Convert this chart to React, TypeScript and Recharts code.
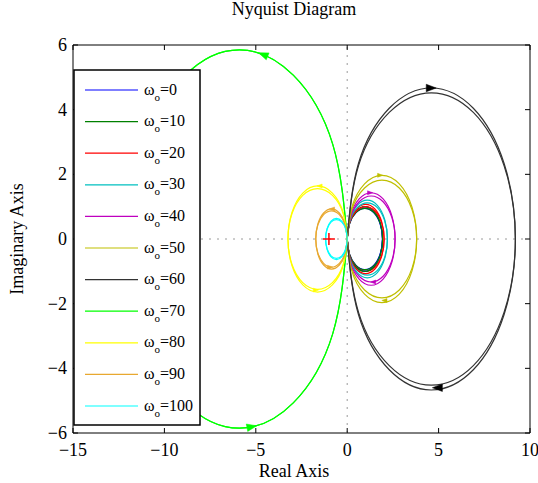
import React from 'react';
import { ComposedChart, Line, Scatter, XAxis, YAxis, ReferenceLine, ReferenceArea } from 'recharts';

// ---------- data ----------
const omegaValues = [0, 10, 20, 30, 40, 50, 60, 70, 80, 90, 100];
const xTicks = [-15, -10, -5, 0, 5, 10];
const yTicks = [-6, -4, -2, 0, 2, 4, 6];

// positive-frequency branch of each Nyquist locus: [Re, Im]
const w0Branch = [[0,0],[0.129,0.497],[0.482,0.861],[0.965,0.995],[1.448,0.861],[1.8,0.497],[1.93,0],[1.8,-0.472],[1.448,-0.818],[0.965,-0.945],[0.482,-0.818],[0.129,-0.472],[0,0]];
const w10Branch = [[0,0],[0.13,0.5],[0.485,0.866],[0.97,1.0],[1.455,0.866],[1.81,0.5],[1.94,0],[1.81,-0.475],[1.455,-0.823],[0.97,-0.95],[0.485,-0.823],[0.13,-0.475],[0,0]];
const w20Branch = [[0,0],[0.135,0.535],[0.505,0.927],[1.01,1.07],[1.515,0.927],[1.885,0.535],[2.02,0],[1.885,-0.5],[1.515,-0.866],[1.01,-1.0],[0.505,-0.866],[0.135,-0.5],[0,0]];
const w30Branch = [[0,0],[0.147,0.6],[0.55,1.039],[1.1,1.2],[1.65,1.039],[2.053,0.6],[2.2,0],[2.053,-0.56],[1.65,-0.97],[1.1,-1.12],[0.55,-0.97],[0.147,-0.56],[0,0]];
const w40Branch = [[0,0],[0.176,0.715],[0.655,1.238],[1.31,1.43],[1.965,1.238],[2.444,0.715],[2.62,0],[2.444,-0.665],[1.965,-1.152],[1.31,-1.33],[0.655,-1.152],[0.176,-0.665],[0,0]];
const w50Branch = [[0,0],[0.255,0.985],[0.95,1.706],[1.9,1.97],[2.85,1.706],[3.545,0.985],[3.8,0],[3.545,-0.91],[2.85,-1.576],[1.9,-1.82],[0.95,-1.576],[0.255,-0.91],[0,0]];
const w60Branch = [[0,0],[0.616,2.335],[2.3,4.044],[4.6,4.67],[6.9,4.044],[8.584,2.335],[9.2,0],[8.584,-2.26],[6.9,-3.914],[4.6,-4.52],[2.3,-3.914],[0.616,-2.26],[0,0]];
const w70Branch = [[0,0],[-0.79,2.925],[-2.95,5.066],[-5.9,5.85],[-8.85,5.066],[-11.01,2.925],[-11.8,0],[-11.01,-2.925],[-8.85,-5.066],[-5.9,-5.85],[-2.95,-5.066],[-0.79,-2.925],[0,0]];
const w80Branch = [[0,0],[-0.217,0.82],[-0.81,1.42],[-1.62,1.64],[-2.43,1.42],[-3.023,0.82],[-3.24,0],[-3.023,-0.78],[-2.43,-1.351],[-1.62,-1.56],[-0.81,-1.351],[-0.217,-0.78],[0,0]];
const w90Branch = [[0,0],[-0.115,0.465],[-0.43,0.805],[-0.86,0.93],[-1.29,0.805],[-1.605,0.465],[-1.72,0],[-1.605,-0.435],[-1.29,-0.753],[-0.86,-0.87],[-0.43,-0.753],[-0.115,-0.435],[0,0]];
const w100Branch = [[0,0],[-0.079,0.32],[-0.295,0.554],[-0.59,0.64],[-0.885,0.554],[-1.101,0.32],[-1.18,0],[-1.101,-0.3],[-0.885,-0.52],[-0.59,-0.6],[-0.295,-0.52],[-0.079,-0.3],[0,0]];

// direction arrows on the loci: position and heading (degrees, screen)
const w40Arrows = [{ x: 1.24, y: 1.43, angle: 0 }, { x: 1.43, y: -1.33, angle: 180 }];
const w50Arrows = [{ x: 1.79, y: 1.97, angle: 0 }, { x: 2.05, y: -1.9, angle: 180 }];
const w60Arrows = [{ x: 4.57, y: 4.67, angle: 0 }, { x: 4.96, y: -4.6, angle: 180 }];
const w70Arrows = [{ x: -4.58, y: 5.7, angle: -158 }, { x: -5.24, y: -5.81, angle: -11 }];
const w80Arrows = [{ x: -1.5, y: 1.64, angle: 180 }, { x: -1.73, y: -1.58, angle: 0 }];
const w90Arrows = [{ x: -0.82, y: 0.93, angle: 180 }, { x: -0.95, y: -0.87, angle: 0 }];

const criticalPoint = [{ x: -1, y: 0 }];

// ---------- styling ----------
const FONT = "'Liberation Serif', 'Times New Roman', Times, serif";
const PLOT = { left: 73, right: 530, top: 45, bottom: 433 };

const branches = [w0Branch, w10Branch, w20Branch, w30Branch, w40Branch, w50Branch, w60Branch, w70Branch, w80Branch, w90Branch, w100Branch];
const colors = ['#0000FF', '#008000', '#FF0000', '#00BFBF', '#BF00BF', '#BFBF00', '#333333', '#00FF00', '#FFFF00', '#E8A830', '#00FFFF'];
const arrowSets = [
  { data: w40Arrows, color: '#BF00BF', size: 2.6 },
  { data: w50Arrows, color: '#BFBF00', size: 2.6 },
  { data: w60Arrows, color: '#000000', size: 5 },
  { data: w70Arrows, color: '#00FF00', size: 5 },
  { data: w80Arrows, color: '#FFFF00', size: 2.6 },
  { data: w90Arrows, color: '#E8A830', size: 2.6 },
];

const toPoints = (b: number[][]) => b.map(([x, y]) => ({ x, y }));
const conjugate = (b: number[][]) => b.map(([x, y]) => ({ x, y: -y }));

const fmt = (v: number) => (v < 0 ? '\u2212' + Math.abs(v) : String(v));

const makeArrow = (size: number, color: string) => (props: any) => {
  const { cx, cy, payload } = props;
  if (cx == null || cy == null) return <g />;
  const a = (payload.angle * Math.PI) / 180;
  const c = Math.cos(a);
  const s = Math.sin(a);
  const tx = cx + c * size * 1.1;
  const ty = cy + s * size * 1.1;
  const bx = cx - c * size * 0.9;
  const by = cy - s * size * 0.9;
  const w = size * 0.75;
  const pts = `${tx},${ty} ${bx - s * w},${by + c * w} ${bx + s * w},${by - c * w}`;
  return <polygon points={pts} fill={color} stroke={color} strokeWidth={0.5} />;
};

const PlusShape = (props: any) => {
  const { cx, cy } = props;
  if (cx == null || cy == null) return <g />;
  return (
    <g stroke="#FF0000" strokeWidth={1.5}>
      <line x1={cx - 6} x2={cx + 6} y1={cy} y2={cy} />
      <line x1={cx} x2={cx} y1={cy - 6} y2={cy + 6} />
    </g>
  );
};

const XTick = (props: any) => {
  const { x, payload } = props;
  return (
    <g>
      <line x1={x} x2={x} y1={PLOT.bottom} y2={PLOT.bottom - 5} stroke="#000" />
      <line x1={x} x2={x} y1={PLOT.top} y2={PLOT.top + 5} stroke="#000" />
      <text x={x} y={456} textAnchor="middle" fontSize={18} fontFamily={FONT} fill="#000">
        {fmt(payload.value)}
      </text>
    </g>
  );
};

const YTick = (props: any) => {
  const { y, payload } = props;
  return (
    <g>
      <line x1={PLOT.left} x2={PLOT.left + 5} y1={y} y2={y} stroke="#000" />
      <line x1={PLOT.right} x2={PLOT.right - 5} y1={y} y2={y} stroke="#000" />
      <text x={67} y={y + 6} textAnchor="end" fontSize={18} fontFamily={FONT} fill="#000">
        {fmt(payload.value)}
      </text>
    </g>
  );
};

const LEGEND = { left: 74, top: 70, width: 126, height: 355, firstRow: 90, rowStep: 31.6 };

export default function App() {
  return (
    <div style={{ position: 'absolute', left: 0, top: 0, width: 538, height: 483, background: '#fff' }}>
      <ComposedChart
        width={538}
        height={483}
        margin={{ top: PLOT.top, right: 538 - PLOT.right, bottom: 20, left: PLOT.left - 30 }}
      >
        <XAxis
          type="number"
          dataKey="x"
          domain={[-15, 10]}
          ticks={xTicks}
          allowDataOverflow
          axisLine={false}
          tickLine={false}
          tick={<XTick />}
          height={30}
          interval={0}
        />
        <YAxis
          type="number"
          dataKey="y"
          domain={[-6, 6]}
          ticks={yTicks}
          allowDataOverflow
          axisLine={false}
          tickLine={false}
          tick={<YTick />}
          width={30}
          interval={0}
        />
        <ReferenceLine x={0} stroke="#9a9a9a" strokeDasharray="2 6" />
        <ReferenceLine y={0} stroke="#9a9a9a" strokeDasharray="2 6" />
        {branches.map((b, i) => (
          <Line
            key={'p' + i}
            data={toPoints(b)}
            dataKey="y"
            type="natural"
            stroke={colors[i]}
            strokeWidth={1.2}
            dot={false}
            activeDot={false}
            isAnimationActive={false}
          />
        ))}
        {branches.map((b, i) => (
          <Line
            key={'n' + i}
            data={conjugate(b)}
            dataKey="y"
            type="natural"
            stroke={colors[i]}
            strokeWidth={1.2}
            dot={false}
            activeDot={false}
            isAnimationActive={false}
          />
        ))}
        {arrowSets.map((a, i) => (
          <Scatter
            key={'a' + i}
            data={a.data}
            dataKey="y"
            shape={makeArrow(a.size, a.color)}
            isAnimationActive={false}
          />
        ))}
        <Scatter data={criticalPoint} dataKey="y" shape={PlusShape} isAnimationActive={false} />
        <ReferenceArea x1={-15} x2={10} y1={-6} y2={6} fill="none" fillOpacity={0} stroke="#000" strokeWidth={1} />
      </ComposedChart>
      <svg
        width={538}
        height={483}
        style={{ position: 'absolute', left: 0, top: 0, pointerEvents: 'none' }}
      >
        <text x={294} y={15} textAnchor="middle" fontSize={18} fontFamily={FONT} fill="#000">
          Nyquist Diagram
        </text>
        <text x={294} y={477} textAnchor="middle" fontSize={18} fontFamily={FONT} fill="#000">
          Real Axis
        </text>
        <text
          x={23}
          y={239}
          textAnchor="middle"
          fontSize={18}
          fontFamily={FONT}
          fill="#000"
          transform="rotate(-90 23 239)"
        >
          Imaginary Axis
        </text>
        <rect
          x={LEGEND.left}
          y={LEGEND.top}
          width={LEGEND.width}
          height={LEGEND.height}
          fill="#fff"
          stroke="#000"
          strokeWidth={1.5}
        />
        {omegaValues.map((w, i) => {
          const ry = LEGEND.firstRow + i * LEGEND.rowStep;
          return (
            <g key={'lg' + i}>
              <line x1={85} x2={138} y1={ry} y2={ry} stroke={colors[i]} strokeWidth={1.2} />
              <text x={144} y={ry + 4.5} fontSize={16} fontFamily={FONT} fill="#000">
                ω
                <tspan fontSize={11} dy={6}>o</tspan>
                <tspan dy={-6}>={w}</tspan>
              </text>
            </g>
          );
        })}
      </svg>
    </div>
  );
}
